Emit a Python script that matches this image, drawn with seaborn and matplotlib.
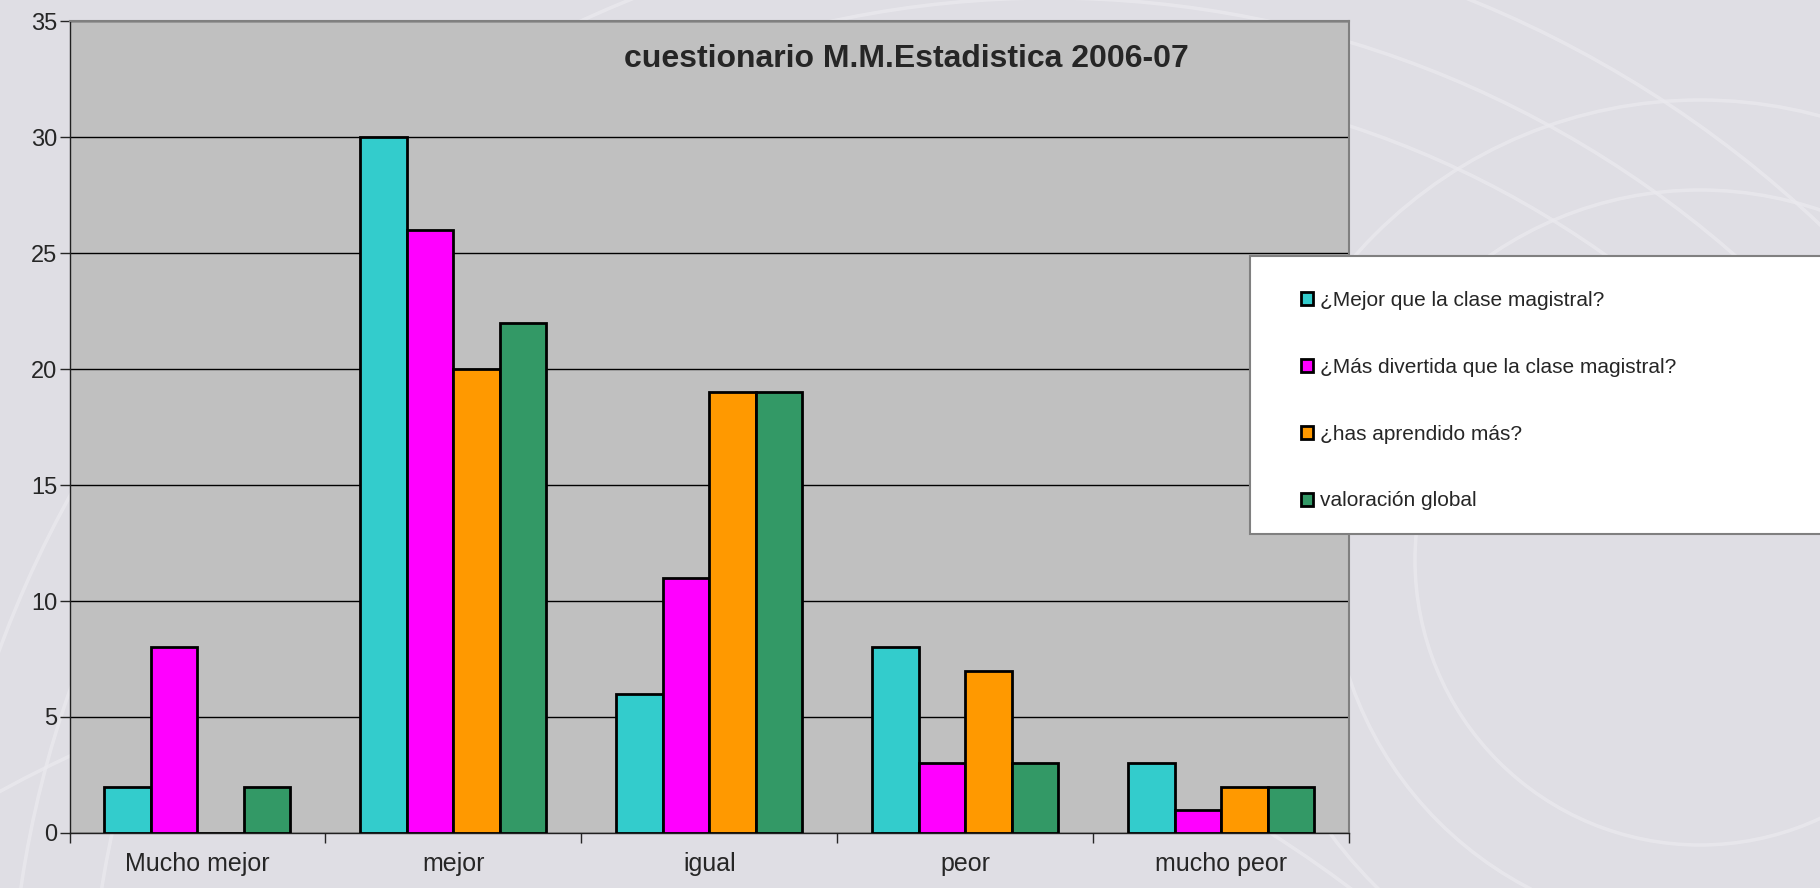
import pandas as pd
import numpy as np
import matplotlib.pyplot as plt
import matplotlib.patches as mpatches
import seaborn as sns

# respuestas del cuestionario (numero de alumnos por categoria)
categorias = ["Mucho mejor", "mejor", "igual", "peor", "mucho peor"]
series = ["¿Mejor que la clase magistral?",
          "¿Más divertida que la clase magistral?",
          "¿has aprendido más?",
          "valoración global"]
mejor_que = [2, 30, 6, 8, 3]
mas_divertida = [8, 26, 11, 3, 1]
aprendido = [0, 20, 19, 7, 2]
valoracion = [2, 22, 19, 3, 2]
colores = ["#33CCCC", "#FF00FF", "#FF9900", "#339966"]

df = pd.DataFrame({"categoria": categorias,
                   series[0]: mejor_que,
                   series[1]: mas_divertida,
                   series[2]: aprendido,
                   series[3]: valoracion})
melt_df = pd.melt(df, id_vars=["categoria"])

sns.set_style("ticks")
plt.rcParams['font.family'] = ['Liberation Sans', 'DejaVu Sans']

fig = plt.figure(figsize=(18.2, 8.88), dpi=100)
fig.patch.set_facecolor("#DFDEE4")

# arcos decorativos del fondo (en pulgadas desde abajo-izquierda)
for (cx, cy, r) in [(17.0, 3.28, 2.85), (17.0, 3.28, 3.7), (17.0, 3.28, 4.6),
                    (10.5, -1.5, 9.6), (10.5, -1.5, 10.4), (10.5, -1.5, 11.2),
                    (6.0, -10.0, 12.5)]:
    fig.add_artist(mpatches.Circle((cx, cy), r, transform=fig.dpi_scale_trans,
                                   fill=False, edgecolor="#EAE9EE", lw=2.5, alpha=0.8, zorder=0))

ax1 = fig.add_axes([0.0382, 0.062, 0.703, 0.914])
ax1.set_facecolor("#C0C0C0")

sns.barplot(x="categoria", y="value", hue="variable", data=melt_df, ax=ax1,
            palette=colores, edgecolor="black", linewidth=2, width=0.727,
            saturation=1, zorder=3)

ax1.set_xlim(-0.5, 4.5)
ax1.set_ylim(0, 35)
ax1.set_yticks(np.arange(0, 36, 5))
ax1.yaxis.grid(True, color="black", lw=1)
ax1.set_axisbelow(True)
ax1.set_xlabel("")
ax1.set_ylabel("")

ax1.set_xticks(np.arange(-0.5, 5, 1), minor=True)
ax1.tick_params(axis="x", which="major", length=0, pad=14, labelsize=18)
ax1.tick_params(axis="x", which="minor", length=7, width=1, direction="out")
ax1.tick_params(axis="y", length=7, width=1, pad=2, labelsize=17)

for s in ["top", "right"]:
    ax1.spines[s].set_color("#808080")
    ax1.spines[s].set_linewidth(1.5)
for s in ["left", "bottom"]:
    ax1.spines[s].set_color("#202020")
    ax1.spines[s].set_linewidth(1)

ax1.text(0.654, 0.944, "cuestionario M.M.Estadistica 2006-07", transform=ax1.transAxes,
         ha="center", va="baseline", fontsize=23, fontweight="bold")

# caja de la leyenda hasta el borde derecho
fig.add_artist(mpatches.Rectangle((1250 / 1820, 1 - 534 / 888), 1, (534 - 256) / 888,
                                  transform=fig.transFigure, facecolor="white",
                                  edgecolor="#808080", lw=1.5, zorder=5))
handles, labels = ax1.get_legend_handles_labels()
ax1.get_legend().remove()
legend1 = fig.legend(handles, labels, loc="upper left", bbox_to_anchor=(1282 / 1820, 1 - 272 / 888),
                     frameon=False, fontsize=15, handlelength=0.6, handleheight=0.6,
                     handletextpad=0.3, labelspacing=2.3)
legend1.set_zorder(6)

plt.savefig("out.png", dpi=100, facecolor=fig.get_facecolor())
